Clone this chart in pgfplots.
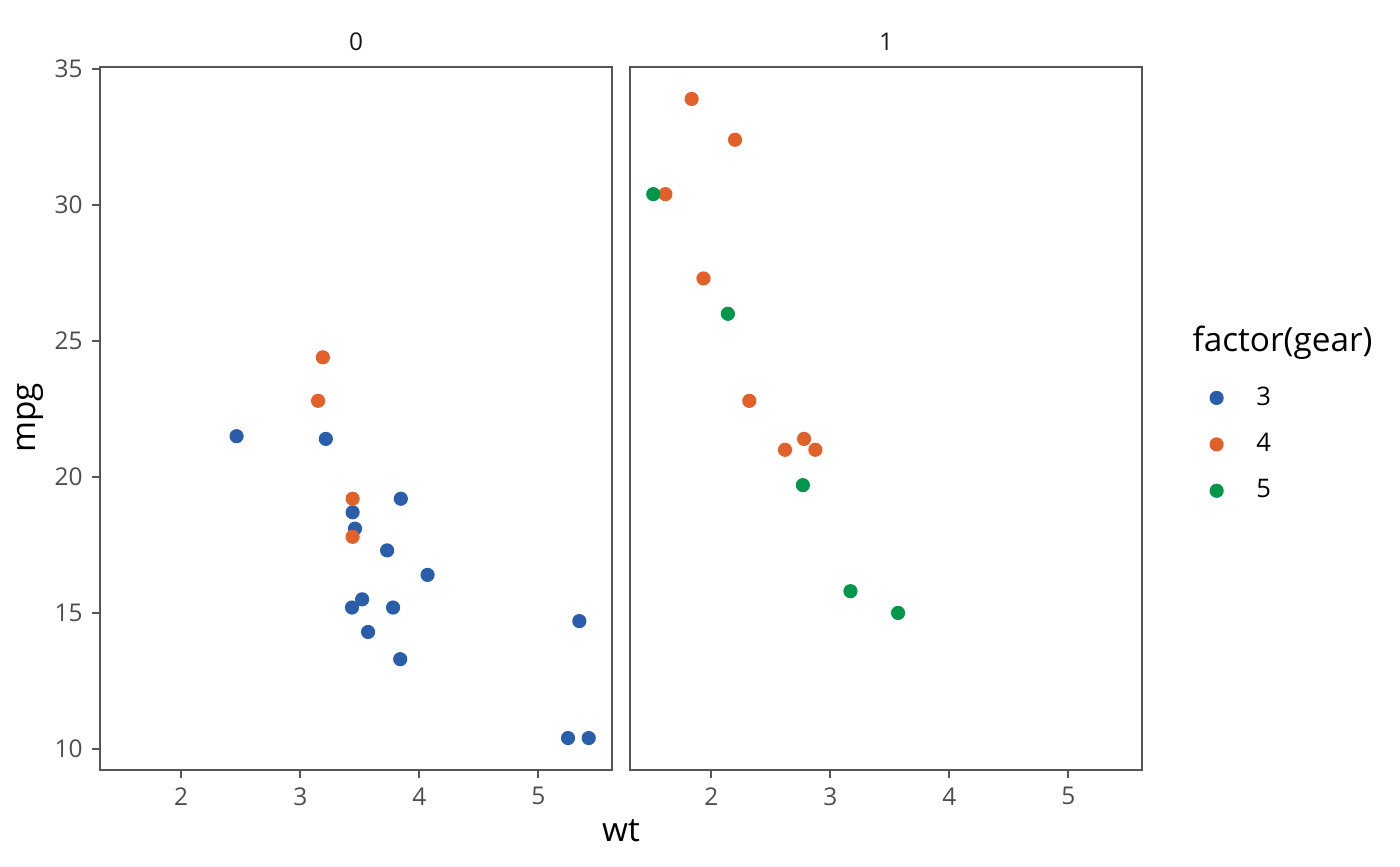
\documentclass[border=0pt]{standalone}
\usepackage{fontspec}
\setmainfont{Open Sans}
\usepackage{pgfplots}
\pgfplotsset{compat=1.18}
\usepackage{pgfplotstable}
\definecolor{gblue}{RGB}{43,94,170}
\definecolor{gorange}{RGB}{226,97,42}
\definecolor{ggreen}{RGB}{2,150,74}
\definecolor{gborder}{HTML}{555555}
\definecolor{glab}{HTML}{4D4D4D}

\pgfplotstableread{
wt mpg
2.465 21.5
3.215 21.4
3.440 18.7
3.460 18.1
3.570 14.3
4.070 16.4
3.730 17.3
3.780 15.2
5.250 10.4
5.424 10.4
5.345 14.7
3.520 15.5
3.435 15.2
3.840 13.3
3.845 19.2
}\amzerogearthree
\pgfplotstableread{
wt mpg
3.190 24.4
3.150 22.8
3.440 19.2
3.440 17.8
}\amzerogearfour
\pgfplotstableread{
wt mpg
2.620 21.0
2.875 21.0
2.320 22.8
2.200 32.4
1.615 30.4
1.835 33.9
1.935 27.3
2.780 21.4
}\amonegearfour
\pgfplotstableread{
wt mpg
2.140 26.0
1.513 30.4
3.170 15.8
2.770 19.7
3.570 15.0
}\amonegearfive

\pgfplotsset{
  panel/.style={
    scale only axis,
    width=184.32pt, height=253.08pt,
    xmin=1.31745, xmax=5.61955,
    ymin=9.225, ymax=35.075,
    xtick={2,3,4,5},
    ytick={10,15,20,25,30,35},
    axis line style={draw=gborder, line width=0.7pt},
    tick align=outside,
    xtick pos=bottom,
    major tick length=2.75pt,
    tick style={draw=gborder, line width=0.7pt},
    ticklabel style={font=\fontsize{8.8}{10}\selectfont, text=glab},
    /pgf/number format/assume math mode=true,
    clip=false,
  },
  mk/.style={only marks, mark=*, mark size=2.35pt, mark options={draw=#1, fill=#1}},
}

\begin{document}
\begin{tikzpicture}
\path[use as bounding box] (0,0) rectangle (504pt,311.76pt);

\begin{axis}[panel, at={(36pt,34.56pt)}, anchor=south west,
  ytick pos=left]
  \addplot[mk=gblue] table[x=wt,y=mpg] {\amzerogearthree};
  \addplot[mk=gorange] table[x=wt,y=mpg] {\amzerogearfour};
\end{axis}

\begin{axis}[panel, at={(226.8pt,34.56pt)}, anchor=south west,
  ytick=\empty,
  legend style={at={(1.1156,0.562)}, anchor=north west, draw=none,
    font=\fontsize{9.2}{10}\selectfont, row sep=4.6pt,
    /tikz/every odd column/.append style={column sep=10pt}},
  legend cell align=left]
  \addlegendimage{mk=gblue}
  \addlegendentry{3}
  \addlegendimage{mk=gorange}
  \addlegendentry{4}
  \addlegendimage{mk=ggreen}
  \addlegendentry{5}
  \addplot[mk=gorange, forget plot] table[x=wt,y=mpg] {\amonegearfour};
  \addplot[mk=ggreen, forget plot] table[x=wt,y=mpg] {\amonegearfive};
\end{axis}

\node[font=\fontsize{8.8}{10}\selectfont, text=black!90] at (128.16pt,296.64pt) {0};
\node[font=\fontsize{8.8}{10}\selectfont, text=black!90] at (318.96pt,296.64pt) {1};
\node[font=\fontsize{12}{14}\selectfont] at (223.56pt,12.6pt) {wt};
\node[font=\fontsize{12}{14}\selectfont, rotate=90] at (10.8pt,161.3pt) {mpg};
\node[font=\fontsize{12}{14}\selectfont, anchor=west, inner sep=0pt] at (429.1pt,188.3pt) {factor(gear)};
\end{tikzpicture}
\end{document}
